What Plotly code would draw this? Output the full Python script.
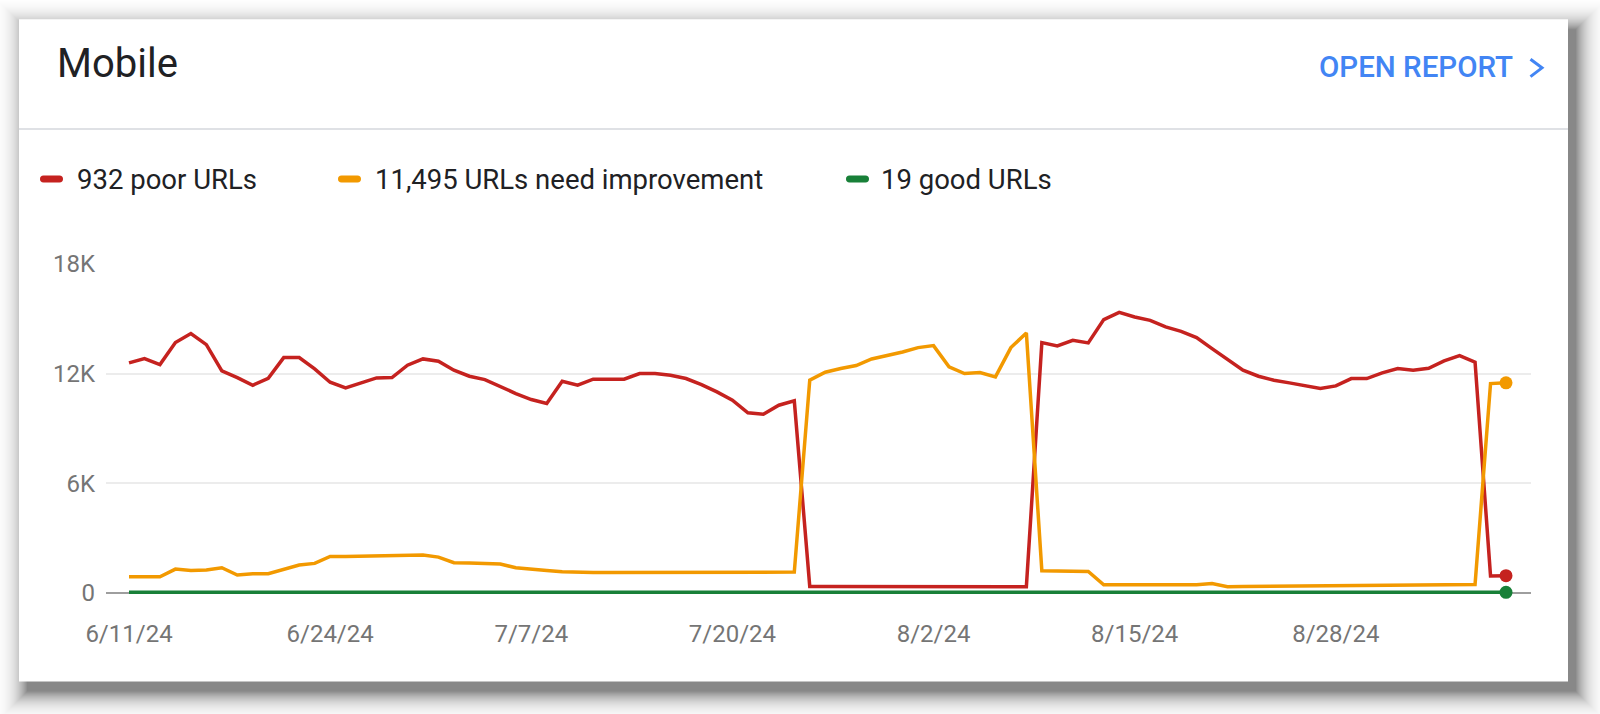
import pandas as pd
import plotly.graph_objects as go

# ---------------- data ----------------
start_date = "2024-06-11"
n_days = 90
dates = pd.date_range(start_date, periods=n_days, freq="D")

poor_urls = [12583, 12820, 12492, 13695, 14188, 13586, 12146, 11781, 11362, 11745,
             12875, 12875, 12255, 11526, 11216, 11508, 11763, 11781, 12456, 12802,
             12674, 12182, 11854, 11672, 11271, 10906, 10578, 10359,
             11581, 11362, 11690, 11690, 11690, 12000, 12000, 11909, 11727, 11398,
             10997, 10542, 9849, 9776, 10268, 10505,
             346, 346, 340, 340, 335, 335, 330, 330, 325, 320, 320, 320, 320, 320, 330,
             13695, 13513, 13823, 13677, 14953, 15354, 15099, 14917, 14552, 14315,
             13969, 13367, 12766, 12182, 11854, 11635, 11490, 11326, 11180, 11326,
             11727, 11727, 12036, 12273, 12182, 12292, 12693, 12984, 12620,
             920, 932]

needs_improvement = [875, 875, 875, 1294, 1221, 1240, 1367, 966, 1039, 1039,
                     1258, 1513, 1604, 1987, 1987, 2000, 2005, 2005, 2040, 2060,
                     1950, 1640, 1622, 1586, 1568, 1367, 1312, 1221, 1148, 1112,
                     1100, 1100, 1100, 1100, 1100, 1110, 1110, 1110, 1120, 1120,
                     1130, 1130, 1140, 1130,
                     11635, 12073, 12273, 12437, 12802, 12984, 13185, 13422, 13531, 12365,
                     12000, 12055, 11818, 13422, 14224,
                     1203, 1203, 1203, 1167, 437, 437, 430, 430, 430, 430, 437, 500,
                     330, 340, 350, 360, 370, 380, 390, 400, 410, 420, 430, 440, 440,
                     450, 450, 450, 455,
                     11453, 11495]

good_urls = [22, 22, 23, 24, 24, 25, 26, 26, 27, 28, 30, 31, 33, 34, 35, 36, 36, 37, 37, 37,
             36, 35, 34, 33, 32, 31, 30, 30, 29, 29, 28, 28, 27, 27, 26, 26, 26, 25, 25, 24,
             24, 23, 23, 22, 22, 21, 21, 21, 20, 20, 20, 20, 20, 21, 21, 22, 22, 23, 23, 24,
             24, 25, 25, 25, 24, 24, 23, 23, 22, 22, 22, 21, 21, 21, 20, 20, 20, 20, 20, 20,
             20, 20, 19, 19, 19, 19, 19, 19, 19, 19]

series_names = ["932 poor URLs", "11,495 URLs need improvement", "19 good URLs"]
series_colors = ["#c5221f", "#f29900", "#188038"]

x_tick_dates = ["2024-06-11", "2024-06-24", "2024-07-07", "2024-07-20",
                "2024-08-02", "2024-08-15", "2024-08-28"]
x_tick_labels = ["6/11/24", "6/24/24", "7/7/24", "7/20/24", "8/2/24", "8/15/24", "8/28/24"]
y_tick_vals = [0, 6000, 12000, 18000]
y_tick_labels = ["0", "6K", "12K", "18K"]

assert len(poor_urls) == n_days and len(needs_improvement) == n_days and len(good_urls) == n_days

# ---------------- layout geometry ----------------
W, H = 1600, 714
L, R = 106, 1531          # plot area left/right (px)
T = 264                   # pixel of 18K
Y0 = 593                  # pixel of 0
Y_MIN = -400
ppu = (Y0 - T) / 18000.0
B = Y0 - Y_MIN * ppu      # bottom of plot area px

X_FIRST, X_LAST = 129, 1506
px_day = (X_LAST - X_FIRST) / (n_days - 1)
x_lo = dates[0] - pd.Timedelta(days=(X_FIRST - L) / px_day)
x_hi = dates[-1] + pd.Timedelta(days=(R - X_LAST) / px_day)


def px(x):
    return (x - L) / (R - L)


def py(y):
    return (B - y) / (B - T)


fig = go.Figure()

series = [poor_urls, needs_improvement, good_urls]
for vals, name, col in zip(series, series_names, series_colors):
    fig.add_trace(go.Scatter(x=dates, y=vals, mode="lines", name=name,
                             line=dict(color=col, width=3.5), showlegend=False,
                             hoverinfo="skip"))
for vals, name, col in zip(series, series_names, series_colors):
    fig.add_trace(go.Scatter(x=[dates[-1]], y=[vals[-1]], mode="markers",
                             marker=dict(color=col, size=13), showlegend=False,
                             cliponaxis=False, hoverinfo="skip"))

shapes = []
# shadow
dx, dy = 8, 10
for k in range(30, -1, -1):
    a = 0.06 * (0.9 ** k)
    shapes.append(dict(type="rect", xref="paper", yref="paper",
                       x0=px(19 + dx - k), x1=px(1568 + dx + k),
                       y0=py(682 + dy + k), y1=py(19 + dy - k),
                       fillcolor=f"rgba(0,0,0,{a:.4f})", line=dict(width=0),
                       layer="below"))
# card
shapes.append(dict(type="rect", xref="paper", yref="paper",
                   x0=px(19), x1=px(1568), y0=py(682), y1=py(19),
                   fillcolor="white", line=dict(width=0), layer="below"))
# header separator
shapes.append(dict(type="line", xref="paper", yref="paper",
                   x0=px(19), x1=px(1568), y0=py(129), y1=py(129),
                   line=dict(color="#dfe1e5", width=2), layer="below"))


def rr_path(x0, y0, x1, y1, r):
    p = lambda x, y: f"{px(x):.6f},{py(y):.6f}"
    return (f"M{p(x0 + r, y0)} L{p(x1 - r, y0)} Q{p(x1, y0)} {p(x1, y0 + r)} "
            f"L{p(x1, y1 - r)} Q{p(x1, y1)} {p(x1 - r, y1)} L{p(x0 + r, y1)} "
            f"Q{p(x0, y1)} {p(x0, y1 - r)} L{p(x0, y0 + r)} Q{p(x0, y0)} {p(x0 + r, y0)} Z")


legend_swatch_x = [40, 338, 846]
legend_text_x = [75, 373, 879]
legend_y = 179
for sx, col in zip(legend_swatch_x, series_colors):
    shapes.append(dict(type="path", xref="paper", yref="paper",
                       path=rr_path(sx, legend_y - 3.5, sx + 23, legend_y + 3.5, 3.5),
                       fillcolor=col, line=dict(width=0)))

# chevron of OPEN REPORT
shapes.append(dict(type="path", xref="paper", yref="paper",
                   path=f"M{px(1530.5)},{py(59)} L{px(1542)},{py(67.7)} L{px(1530.5)},{py(76.5)}",
                   line=dict(color="#4285f4", width=3)))

annotations = [
    dict(text="Mobile", x=px(54.5), y=py(63), xref="paper", yref="paper",
         xanchor="left", yanchor="middle", showarrow=False,
         font=dict(family="Roboto", size=40, color="#202124")),
    dict(text="OPEN REPORT", x=px(1514.5), y=py(67), xref="paper", yref="paper",
         xanchor="right", yanchor="middle", showarrow=False,
         font=dict(family="Roboto", size=29.5, color="#4285f4", weight=500)),
]
for tx, name in zip(legend_text_x, series_names):
    annotations.append(dict(text=name, x=px(tx), y=py(legend_y + 0.5), xref="paper", yref="paper",
                            xanchor="left", yanchor="middle", showarrow=False,
                            font=dict(family="Roboto", size=27.5, color="#202124")))

fig.update_layout(
    width=W, height=H,
    margin=dict(l=L, r=W - R, t=T, b=H - B, pad=0),
    paper_bgcolor="white", plot_bgcolor="rgba(0,0,0,0)",
    shapes=shapes, annotations=annotations,
    showlegend=False,
    font=dict(family="Roboto"),
)
fig.update_xaxes(type="date", range=[x_lo, x_hi], showgrid=False, zeroline=False,
                 showline=False, ticks="",
                 tickvals=pd.to_datetime(x_tick_dates), ticktext=x_tick_labels,
                 tickfont=dict(family="Roboto", size=24, color="#757575"),
                 ticklabelstandoff=17)
fig.update_yaxes(range=[Y_MIN, 18000], tickvals=y_tick_vals, ticktext=y_tick_labels,
                 showgrid=True, gridcolor="#ececec", gridwidth=2,
                 zeroline=True, zerolinecolor="#9e9e9e", zerolinewidth=1.5,
                 showline=False, ticks="",
                 tickfont=dict(family="Roboto", size=24, color="#757575"),
                 ticklabelstandoff=10)

fig.write_html("out.html")
